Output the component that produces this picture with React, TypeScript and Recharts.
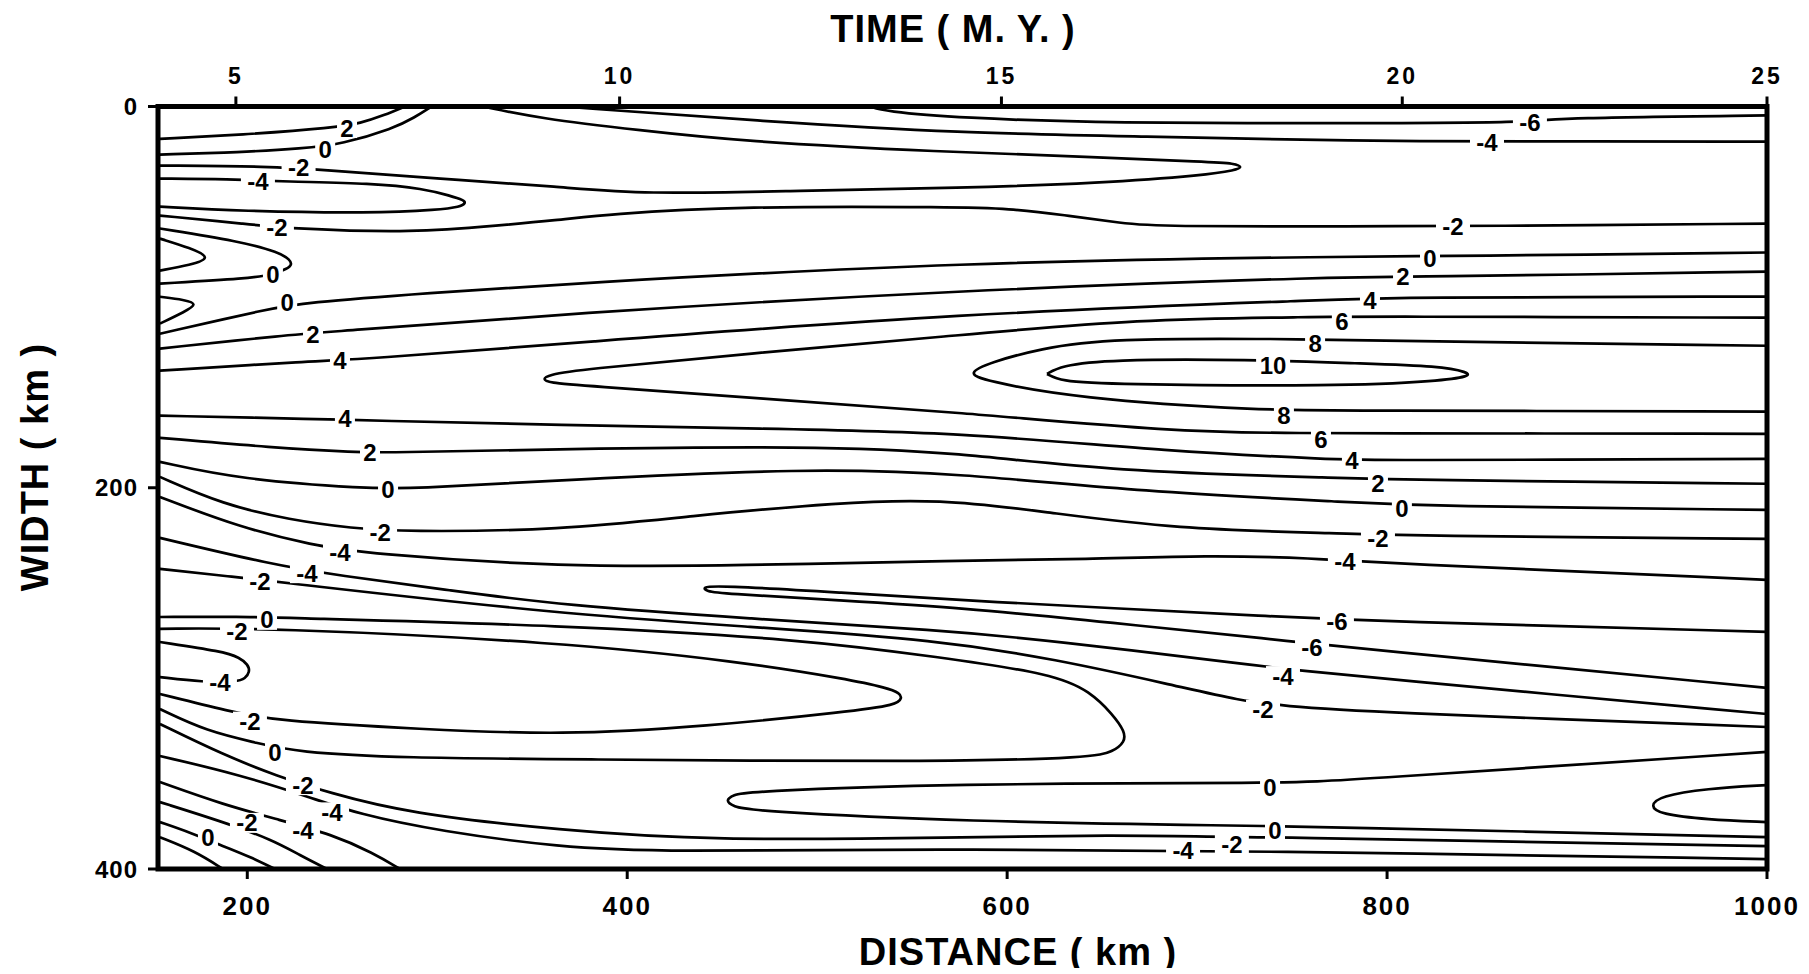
import React from 'react'
import { ScatterChart, Scatter, XAxis, YAxis, ReferenceArea } from 'recharts'

type P = [number, number]

// axes
const distTicks = [200, 400, 600, 800, 1000]
const widthTicks = [0, 200, 400]
// top time axis: tick positions (in km) and their M.Y. labels
const timeTickKm = [194, 396, 597, 808, 1000]
const timeLabels = ['5', '10', '15', '20', '25']

// contour lines, points are [distance km, width km]
const c2Top: P[] = [[154, 17], [201, 14.6], [245, 11.2], [260, 8.7], [272, 4.6], [283, 0]]
const c0Top: P[] = [[154, 25.2], [196, 24], [229, 22.1], [250, 19.7], [277, 11.5], [288, 5.8], [297, 0]]
const cN2Upper: P[] = [
  [154, 31], [212, 31.4], [241, 33.3], [301, 37.9], [365, 42.1], [407, 46.1], [491, 44.2], [575, 42.8],
  [649, 40.2], [705, 36], [720, 33.4], [724, 31.9], [720, 29.8], [705, 29.1], [649, 26.6], [565, 23.8],
  [459, 18.2], [407, 12.5], [354, 6.3], [324, 0],
]
const cN4Top: P[] = [[366, 0], [472, 7.8], [575, 13.9], [670, 15.7], [786, 18.2], [866, 18.3], [1000, 18.4]]
const cN6Top: P[] = [[528, 0], [535, 2.5], [575, 6], [653, 8.8], [786, 8.8], [875, 8.4], [890, 5.9], [1000, 4.7]]
const cN4Hair: P[] = [
  [154, 37.8], [190, 38.1], [220, 39.4], [266, 40.3], [293, 43.1], [307, 46.9], [314, 49.1], [315, 50.7],
  [312, 52.7], [301, 54.2], [266, 56], [196, 54.9], [154, 52.5],
]
const cN2Mid: P[] = [
  [154, 57.2], [201, 61.8], [224, 64.1], [284, 66.2], [322, 63.3], [365, 59.5], [389, 56.5], [459, 52.3],
  [575, 52.8], [600, 53.5], [630, 56.9], [661, 61.3], [679, 63], [786, 62.8], [847, 62.8], [1000, 61.4],
]
const c0Hook: P[] = [[154, 64], [196, 70.7], [217, 76.6], [222.5, 80.4], [223.5, 83], [221, 85.1], [213.5, 88.2], [201, 90.2], [154, 92.9]]
const cV1: P[] = [[154, 69.3], [170, 74.2], [181.5, 79.5], [170, 83.1], [154, 86.1]]
const cV2: P[] = [[154, 99.8], [167, 101.4], [174, 103.6], [167, 107.7], [154, 113.9]]
const c0Mid: P[] = [[154, 119.2], [212, 106], [229, 103], [296, 97.8], [365, 93.1], [575, 81.6], [786, 78.6], [834, 78.5], [1000, 76.6]]
const c2Mid: P[] = [[154, 127], [222.5, 119.7], [243.5, 118.3], [365, 108.8], [575, 96.3], [780, 89.1], [820, 89.4], [1000, 86.6]]
const c4Mid: P[] = [[154, 138.6], [234.6, 133.5], [261, 132.6], [365, 124.6], [575, 108.4], [780, 101.1], [800, 100.2], [1000, 99.7]]
const c6Hair: P[] = [
  [1000, 110.8], [788, 110.1], [765, 110.5], [670, 111.3], [565, 120.9], [470, 129.1], [371.5, 138.3],
  [359.5, 140.8], [355, 142.9], [359.5, 145], [375, 146.2], [470, 153.2], [575, 160.4], [687, 170.7],
  [754, 171.3], [775, 171.4], [1000, 171.7],
]
const c8Hair: P[] = [
  [1000, 125.5], [775, 122.6], [750.5, 121.9], [652.6, 121.6], [617, 127.1], [591, 134.3], [579, 139.9],
  [588, 143.7], [634.7, 153], [737, 159.6], [775, 159.4], [1000, 160.1],
]
const c10Loop: P[] = [
  [621, 140.3], [628, 136.1], [652.6, 132.7], [727.8, 132.7], [785.7, 134.8], [828, 136.2], [842.6, 139.4],
  [843.6, 141.5], [828, 144], [775, 146.8], [652.6, 145.8], [628, 144], [621, 140.3],
]
const c4Low: P[] = [[154, 162.2], [240, 164], [263, 164.7], [365, 167.1], [470, 169], [575, 170.9], [687, 181.2], [774, 185.1], [789.4, 185.7], [1000, 184.8]]
const c2Low: P[] = [[154, 173.8], [213.5, 179], [257.8, 181.4], [272.5, 181.6], [365, 179.7], [494.6, 178.1], [575, 181.4], [652.6, 191.4], [784, 195.1], [805.7, 195.8], [1000, 197.9]]
const c0Low: P[] = [[154, 186.4], [196, 195.6], [263, 200.4], [285.7, 200.6], [365, 196], [494.6, 189.7], [575, 192.4], [670, 202.1], [784, 207.7], [818.4, 209.6], [1000, 211.6]]
const cN2Low: P[] = [
  [154, 194.3], [187, 208.7], [222.5, 216.9], [255.6, 221.3], [282, 223.1], [365, 222.2], [433, 214.9],
  [512, 207.6], [564.6, 206], [617.3, 212.2], [687.3, 221.7], [780.5, 224], [808, 225.2], [1000, 226.8],
]
const cN4Low: P[] = [
  [154, 204.8], [196, 220.8], [234.6, 230.1], [262, 234.5], [365, 241.6], [459.4, 240.8], [575, 238.1],
  [642, 237.6], [705, 235.4], [763, 237], [792.6, 239.3], [1000, 248.3],
]
const cN6Hair: P[] = [
  [1000, 275.6], [786.8, 269.7], [757.8, 268.4], [575, 259.1], [512, 254.9], [447.3, 251.2], [439.4, 252.2],
  [442, 254.3], [448.8, 255.4], [512, 259.1], [575, 262.8], [654, 270.7], [743.6, 279.9], [775, 283.3], [1000, 305],
]
const cN4Low2: P[] = [
  [154, 226.3], [213.5, 240.4], [247.2, 245.9], [306.7, 253.8], [365, 261.6], [464.6, 268.7], [564.6, 274.7],
  [622.5, 280], [731.5, 293.4], [757.8, 296.2], [785.7, 299.1], [1000, 318.7],
]
const cN2Low2: P[] = [
  [154, 242.6], [191, 246.5], [220, 249.9], [365, 266.3], [464.6, 272.9], [564.6, 280], [625, 289.9],
  [687.3, 303.5], [722.6, 311.7], [746.3, 314.5], [785.7, 317.5], [1000, 325.5],
]
const c0Bulge: P[] = [
  [154, 267.8], [197.7, 267.6], [220, 268.3], [365, 272.1], [490.9, 279.4], [564.6, 288.9], [625, 297.8],
  [643.6, 306.9], [655.7, 319], [662, 328], [662, 333.3], [655.7, 338.5], [645, 341.5], [564.6, 344],
  [365, 342.4], [284, 341.8], [225, 338.7], [205, 333.8], [178.8, 327.8], [154, 316.1],
]
const cN2Hair: P[] = [
  [154, 274], [208.3, 273.4], [365, 281], [459.4, 291.2], [517, 300.6], [536.7, 305], [543.6, 307.7],
  [544.6, 310.3], [542, 313.9], [517, 317.4], [442, 325.2], [365, 329.8], [291, 326.6], [214.6, 322.3],
  [190.9, 317.4], [154, 308.2],
]
const cN4Hook: P[] = [[154, 280.9], [187.2, 285.9], [196, 289.1], [200.4, 292.8], [201.4, 296.5], [198.8, 300.1], [195, 301.7], [176.7, 302], [154, 299.3]]
const cN2Bot: P[] = [[154, 323.9], [187.2, 340], [215.6, 351.2], [242.5, 359.8], [284.1, 370.7], [365, 379.7], [442, 385.1], [575, 383.5], [652.6, 382], [729.4, 383.2], [1000, 388]]
const cN4Bot: P[] = [[154, 340.7], [196, 350.5], [234.6, 362.9], [257.8, 371], [301.4, 380.2], [365, 388.6], [415.7, 391.1], [575, 389.3], [727.8, 390.5], [1000, 394.8]]
const c0HairR: P[] = [
  [1000, 338.6], [775, 353.6], [750, 355], [564.6, 355.1], [463, 359.5], [456, 361], [451.5, 364.1],
  [456, 367.3], [464.6, 369.5], [575, 375.1], [729.4, 377.4], [752.6, 377.6], [1000, 383.3],
]
const cHairR2: P[] = [[1000, 356], [968, 357.8], [943.6, 361.8], [938.4, 367], [943.6, 371.2], [968, 374.1], [1000, 375.4]]
const cN4Corner: P[] = [[154, 354.4], [187.2, 366.2], [217.2, 374.3], [244.6, 381.9], [266.2, 391.5], [280.4, 400]]
const cN2Corner: P[] = [[154, 364.9], [186.7, 375.1], [213.5, 384.8], [227.7, 392.8], [242, 400]]
const c0Corner: P[] = [[154, 375.4], [169.8, 380.8], [189.3, 388.8], [201.4, 393.6], [214.6, 400]]
const cCorner: P[] = [[154, 383.3], [172.5, 390.6], [187.2, 400]]

// contour value labels: [distance, width, text]
const labelsLeft: [number, number, string][] = [
  [252.5, 11.3, '2'], [241, 22.8, '0'], [227, 32.1, '-2'], [205.6, 39.3, '-4'], [215.6, 63.5, '-2'],
  [213.5, 88.2, '0'], [221, 102.9, '0'], [234.6, 119.8, '2'], [248.8, 133.1, '4'], [251.4, 163.5, '4'],
  [264.6, 181.5, '2'], [274.1, 201, '0'], [269.9, 223.5, '-2'], [248.8, 233.9, '-4'], [231.4, 244.8, '-4'],
  [206.7, 249.3, '-2'], [210.4, 269.3, '0'], [194.6, 275.4, '-2'], [185.6, 302.1, '-4'], [201.4, 322.7, '-2'],
  [214.6, 339.1, '0'], [229.3, 356, '-2'], [244.6, 370.3, '-4'], [199.8, 375.8, '-2'], [229.3, 379.7, '-4'],
  [179.3, 383.5, '0'],
]
const labelsRight: [number, number, string][] = [
  [875.2, 8.4, '-6'], [852.6, 18.8, '-4'], [834.7, 63.2, '-2'], [822.6, 79.9, '0'], [808.4, 89.3, '2'],
  [791, 101.7, '4'], [776.2, 112.6, '6'], [762.1, 124.1, '8'], [740, 136, '10'], [745.7, 162.3, '8'],
  [765.2, 174.5, '6'], [781.5, 185.7, '4'], [795.2, 197.8, '2'], [807.8, 211.1, '0'], [795.2, 226.7, '-2'],
  [777.8, 238.7, '-4'], [773.6, 270.1, '-6'], [760.5, 283.7, '-6'], [745.2, 298.8, '-4'], [734.7, 316.5, '-2'],
  [738.4, 357.5, '0'], [741, 379.6, '0'], [718.3, 387.3, '-2'], [692.6, 390.2, '-4'],
]

const contours = [
  c2Top, c0Top, cN2Upper, cN4Top, cN6Top, cN4Hair, cN2Mid, c0Hook, cV1, cV2, c0Mid, c2Mid, c4Mid,
  c6Hair, c8Hair, c10Loop, c4Low, c2Low, c0Low, cN2Low, cN4Low, cN6Hair, cN4Low2, cN2Low2, c0Bulge,
  cN2Hair, cN4Hook, cN2Bot, cN4Bot, c0HairR, cHairR2, cN4Corner, cN2Corner, c0Corner, cCorner,
]

const font = '"Liberation Sans", Arial, sans-serif'

const toPts = (pts: P[]) => pts.map(([x, y]) => ({ x, y }))
const labelData = [...labelsLeft, ...labelsRight].map(([x, y, t]) => ({ x, y, t }))
// anchors the top (time) axis so that it gets drawn
const timeAnchor = timeTickKm.map((x) => ({ x, y: 0 }))

const NoDot = () => <g />

const ContourLabel = (props: any) => {
  const { cx, cy, payload } = props
  if (cx == null || cy == null) return <g />
  const w = payload.t.length * 14 + 6
  return (
    <g>
      <rect x={cx - w / 2} y={cy - 10} width={w} height={20} fill="#fff" />
      <text
        x={cx}
        y={cy + 8.5}
        textAnchor="middle"
        fontSize={24}
        fontWeight="bold"
        fontFamily={font}
        fill="#000"
      >
        {payload.t}
      </text>
    </g>
  )
}

const titleStyle: React.CSSProperties = {
  position: 'absolute',
  fontFamily: font,
  fontWeight: 'bold',
  fontSize: 38,
  letterSpacing: 1,
  whiteSpace: 'pre',
  color: '#000',
  transform: 'translate(-50%, -50%)',
}

export default function App() {
  return (
    <div style={{ position: 'relative', width: 1795, height: 960, background: '#fff' }}>
      <ScatterChart width={1795} height={960} margin={{ top: 58.5, right: 36, bottom: 49, left: 90 }}>
        <XAxis
          xAxisId="dist"
          dataKey="x"
          type="number"
          domain={[153, 1000]}
          allowDataOverflow
          ticks={distTicks}
          interval={0}
          height={50}
          axisLine={false}
          tickSize={10}
          tickMargin={18}
          tickLine={{ stroke: '#000', strokeWidth: 3 }}
          tick={{ fill: '#000', fontSize: 26, fontFamily: font, fontWeight: 'bold', letterSpacing: 2 }}
        />
        <XAxis
          xAxisId="time"
          dataKey="x"
          orientation="top"
          type="number"
          domain={[153, 1000]}
          allowDataOverflow
          ticks={timeTickKm}
          interval={0}
          height={40}
          axisLine={false}
          tickSize={10}
          tickMargin={13}
          tickFormatter={(v: number) => timeLabels[timeTickKm.indexOf(v)] ?? ''}
          tickLine={{ stroke: '#000', strokeWidth: 3 }}
          tick={{ fill: '#000', fontSize: 23, fontFamily: font, fontWeight: 'bold', letterSpacing: 3 }}
        />
        <YAxis
          dataKey="y"
          type="number"
          domain={[0, 400]}
          reversed
          allowDataOverflow
          ticks={widthTicks}
          interval={0}
          width={60}
          axisLine={false}
          tickSize={10}
          tickMargin={10}
          tickLine={{ stroke: '#000', strokeWidth: 3 }}
          tick={{ fill: '#000', fontSize: 24, fontFamily: font, fontWeight: 'bold', letterSpacing: 1 }}
        />
        <Scatter xAxisId="time" data={timeAnchor} fill="none" shape={NoDot} isAnimationActive={false} />
        {contours.map((c, i) => (
          <Scatter
            key={`c-${i}`}
            xAxisId="dist"
            data={toPts(c)}
            fill="#000"
            line={{ stroke: '#000', strokeWidth: 2.7, strokeLinejoin: 'round' }}
            lineJointType="basis"
            shape={NoDot}
            isAnimationActive={false}
          />
        ))}
        <Scatter
          xAxisId="dist"
          data={labelData}
          fill="#000"
          shape={ContourLabel}
          isAnimationActive={false}
        />
        <ReferenceArea
          xAxisId="dist"
          x1={153}
          x2={1000}
          y1={0}
          y2={400}
          fill="none"
          fillOpacity={0}
          stroke="#000"
          strokeWidth={5}
          ifOverflow="visible"
        />
      </ScatterChart>
      <div style={{ ...titleStyle, left: 945, top: 21 }}>TIME ( M. Y. )</div>
      <div style={{ ...titleStyle, left: 1010, top: 944 }}>DISTANCE ( km )</div>
      <div style={{ ...titleStyle, left: 27, top: 459, transform: 'translate(-50%, -50%) rotate(-90deg)' }}>
        WIDTH ( km )
      </div>
    </div>
  )
}
